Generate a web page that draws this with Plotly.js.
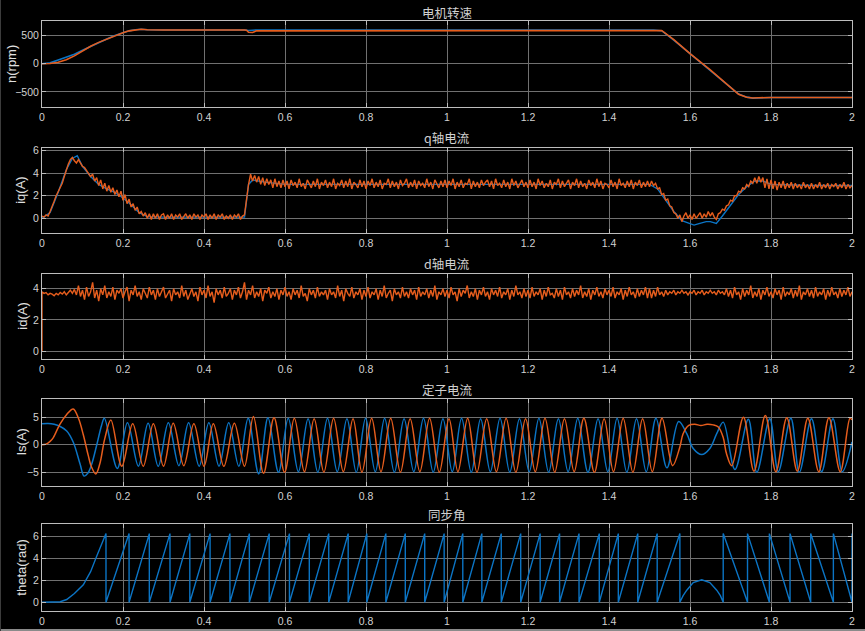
<!DOCTYPE html>
<html><head><meta charset="utf-8">
<script src="https://cdn.plot.ly/plotly-3.0.1.min.js"></script>
<style>html,body{margin:0;padding:0;background:#000;}#chart{width:865px;height:631px;}</style>
</head><body><div id="chart"></div>
<script>
// ---------- labels ----------
const panelTitles = ['电机转速','q轴电流','d轴电流','定子电流','同步角'];
const yTitles = ['n(rpm)','iq(A)','id(A)','Is(A)','theta(rad)'];

// ---------- speed (rpm) ----------
const speedT = [0,0.02,0.04,0.06,0.08,0.1,0.12,0.14,0.16,0.18,0.2,0.215,0.23,0.245,0.26,0.3,0.5,0.505,0.51,0.52,0.53,1.51,1.53,1.56,1.6,1.65,1.69,1.72,1.74,1.755,1.77,1.8,2.0];
const speedBlue = [0,15,65,115,170,240,310,380,440,500,553,585,603,612,605,600,600,592,590,596,600,600,588,420,178,-110,-350,-540,-595,-612,-608,-600,-600];
const speedOrange = [0,5,25,70,140,230,310,380,440,500,553,585,603,612,605,600,600,595,560,555,585,600,592,430,180,-110,-355,-545,-598,-610,-606,-600,-600];

// ---------- iq (A) ----------
const iqBlueT = [0,0.02,0.04,0.06,0.075,0.087,0.1,0.12,0.14,0.16,0.18,0.2,0.22,0.24,0.26,0.3,0.5,0.505,0.51,0.52,0.55,0.6,1.5,1.52,1.54,1.56,1.58,1.6,1.61,1.62,1.64,1.65,1.665,1.68,1.7,1.72,1.74,1.76,1.78,1.8,1.9,2.0];
const iqBlue = [0,0.5,2.3,4.3,5.3,5.55,4.6,3.7,3.0,2.6,2.3,1.8,1.2,0.5,0.15,0.1,0.1,1.5,3.0,3.4,3.2,3.0,3.0,2.6,1.6,0.6,-0.2,-0.5,-0.6,-0.5,-0.3,-0.3,-0.45,0.2,1.1,2.1,2.8,3.3,3.3,3.0,2.9,2.9];
const sampleStep = 0.005;
const iqOrange = [
0.2,0.1,0.3,0.2,0.6,1.0,1.5,2.0,2.4,2.8,3.1,3.7,4.3,4.8,5.2,5.4,5.1,4.9,5.2,4.9,
4.6,4.5,4.2,4.0,3.7,3.9,3.3,3.6,2.9,3.4,2.6,3.1,2.4,2.9,2.3,2.7,2.1,2.5,1.9,2.4,
1.6,2.1,1.3,1.7,1.0,1.3,0.7,1.0,0.4,0.6,0.2,0.5,0.0,0.4,-0.1,0.4,0.0,0.4,-0.1,0.3,
0.4,-0.1,0.3,0.0,0.4,-0.1,0.3,0.1,0.4,-0.1,0.2,0.4,0.0,0.3,-0.1,0.4,0.1,0.3,-0.1,0.3,
0.1,0.4,-0.1,0.3,0.0,0.4,-0.1,0.3,0.1,0.4,-0.1,0.2,0.0,0.3,-0.1,0.3,0.1,0.4,-0.1,0.2,
0.3,1.8,3.0,3.9,3.3,3.8,3.2,3.7,3.0,3.6,2.9,3.5,3.0,3.4,2.7,3.5,2.8,3.3,2.7,3.4,
2.8,3.3,2.6,3.4,2.9,3.2,2.7,3.5,2.8,3.1,2.6,3.4,3.0,2.7,3.3,2.8,3.5,2.6,3.2,2.9,
3.4,2.7,3.2,2.8,3.5,2.6,3.1,2.9,3.4,2.7,3.3,2.8,3.5,2.6,3.2,3.0,2.7,3.4,2.8,3.3,
2.6,3.3,2.9,3.5,2.7,3.2,2.8,3.4,2.6,3.1,3.0,3.5,2.7,3.3,2.8,3.2,2.6,3.4,2.9,3.1,
3.5,2.7,3.2,2.8,3.4,2.6,3.3,2.9,3.1,2.7,3.5,2.8,3.2,2.6,3.4,3.0,2.7,3.3,2.8,3.4,
2.7,3.3,2.9,3.5,2.6,3.2,2.8,3.4,2.7,3.1,3.0,3.5,2.6,3.3,2.8,3.2,2.7,3.4,2.9,3.2,
3.4,2.8,3.3,2.6,3.5,2.9,3.1,2.7,3.4,2.8,3.2,2.6,3.5,2.9,3.3,2.7,3.1,3.4,2.8,3.2,
2.7,3.4,2.8,3.2,2.6,3.5,2.9,3.3,2.7,3.1,2.8,3.4,2.6,3.2,3.0,3.5,2.7,3.3,2.8,3.1,
3.4,2.6,3.2,2.9,3.5,2.7,3.3,2.8,3.1,2.6,3.4,2.9,3.2,2.7,3.5,2.8,3.3,2.6,3.1,3.0,
2.7,3.4,2.8,3.2,2.6,3.5,2.9,3.1,2.7,3.3,2.8,3.4,2.6,3.2,2.9,3.4,2.7,3.2,2.8,3.3,
2.8,3.3,2.9,3.1,2.6,2.7,2.1,2.2,1.6,1.7,1.1,1.0,0.5,0.4,0.0,0.3,-0.3,0.2,0.5,0.0,
0.3,-0.1,0.4,0.0,0.3,0.5,0.0,0.4,0.1,0.6,0.2,0.5,0.1,-0.1,0.4,0.5,0.8,0.7,1.1,1.2,
1.6,1.5,2.0,2.0,2.4,2.3,2.7,2.6,3.0,2.8,3.3,3.1,3.6,3.1,3.7,3.2,3.6,2.7,3.5,2.6,
3.4,2.6,3.3,2.5,3.2,2.7,3.3,2.6,3.1,2.7,3.2,2.6,3.1,2.7,3.0,2.6,3.2,2.7,3.0,2.6,
3.1,2.6,3.0,2.7,3.2,2.6,3.0,2.7,3.1,2.6,3.0,2.8,3.1,2.6,3.0,2.7,3.2,2.6,3.0,2.7,
2.9];

// ---------- id (A) ----------
const idInitial = 0;
const idOrange = [
3.8,3.7,3.75,3.6,3.7,3.65,3.55,3.7,3.6,3.75,3.65,3.8,3.6,3.75,3.9,3.7,3.95,3.6,4.2,3.5,
3.9,3.3,4.1,3.5,3.8,4.4,3.4,3.9,3.2,4.0,3.6,4.2,3.4,3.8,3.5,4.1,3.3,3.9,3.7,4.0,
3.4,3.8,4.1,3.2,3.9,3.6,4.2,3.5,3.8,3.3,4.0,3.7,3.4,4.1,3.6,3.9,3.3,4.0,3.5,3.8,
4.1,3.4,3.7,3.9,3.2,4.0,3.6,3.8,3.4,4.2,3.5,3.9,3.3,3.7,4.0,3.5,3.8,3.2,4.1,3.6,
3.9,3.4,4.2,3.5,3.8,3.1,4.0,3.6,3.9,3.4,4.1,3.5,3.7,4.0,3.3,3.9,3.6,4.1,3.4,3.8,
4.4,3.3,3.9,3.6,4.2,3.4,3.8,3.5,4.0,3.2,3.9,3.7,4.1,3.4,3.8,3.5,4.0,3.3,3.9,3.6,
4.1,3.5,3.8,3.3,4.0,3.6,3.9,3.4,4.2,3.5,3.7,3.2,4.0,3.6,3.9,3.4,4.1,3.5,3.8,3.6,
3.9,3.3,4.0,3.6,3.8,3.4,4.2,3.5,3.9,3.2,4.0,3.7,3.5,4.1,3.4,3.8,3.6,4.0,3.3,3.9,
3.5,4.1,3.4,3.8,3.6,4.0,3.3,3.9,3.5,4.2,3.4,3.7,3.9,3.2,4.0,3.6,3.8,3.4,4.1,3.5,
3.8,3.4,4.0,3.6,3.9,3.3,4.1,3.5,3.8,3.6,4.0,3.4,3.9,3.5,4.2,3.3,3.8,3.6,4.0,3.5,
3.9,3.4,4.1,3.6,3.8,3.2,4.0,3.5,3.9,3.7,4.2,3.4,3.8,3.5,4.0,3.3,3.9,3.6,4.1,3.5,
3.8,3.3,4.0,3.6,3.9,3.5,4.1,3.4,3.8,3.6,4.0,3.3,3.9,3.5,4.2,3.6,3.8,3.4,4.0,3.5,
3.9,3.4,4.1,3.5,3.8,3.6,4.0,3.3,3.9,3.5,4.1,3.6,3.7,3.4,4.0,3.5,3.9,3.3,4.1,3.6,
3.8,3.4,4.0,3.5,3.9,3.6,4.2,3.4,3.8,3.5,4.0,3.3,3.9,3.6,4.1,3.5,3.8,3.4,4.0,3.6,
3.9,3.5,4.1,3.4,3.8,3.6,4.0,3.3,3.9,3.5,4.1,3.6,3.8,3.4,4.0,3.5,3.9,3.6,4.1,3.4,
4.0,3.4,3.9,3.5,4.1,3.6,3.8,3.5,3.9,3.6,3.8,3.7,3.9,3.6,3.8,3.7,3.9,3.7,3.8,3.6,
3.8,3.7,3.9,3.6,3.8,3.7,3.9,3.6,3.8,3.7,3.9,3.7,3.8,3.6,3.9,3.7,3.8,3.6,4.0,3.5,
3.9,3.4,4.1,3.6,3.8,3.3,4.0,3.5,3.9,3.6,4.2,3.4,3.8,3.5,4.0,3.3,3.9,3.6,4.1,3.5,
3.8,3.4,4.0,3.6,3.9,3.3,4.1,3.5,3.8,3.6,4.0,3.4,3.9,3.5,4.2,3.3,3.8,3.6,4.0,3.5,
3.9,3.4,4.1,3.5,3.8,3.6,4.0,3.3,3.9,3.5,4.1,3.6,3.8,3.4,4.0,3.5,3.9,3.6,4.1,3.5,
3.8];

// ---------- stator current Is (A): extrema and shape points ----------
const isBlueT = [0,0.015,0.03,0.045,0.061,0.077,0.094,0.104,0.113,0.122,0.135,0.147,0.154,
0.186,0.211,0.238,0.262,0.287,0.312,0.338,0.362,0.388,0.412,0.437,0.461,0.486,0.509,0.535,0.558,0.584,0.608,
0.633,0.657,0.681,0.705,0.729,0.753,0.776,0.799,0.823,0.846,0.870,0.894,0.918,0.942,0.966,0.990,1.013,1.036,1.060,1.083,
1.107,1.131,1.155,1.179,1.203,1.227,1.251,1.275,1.299,1.323,1.348,1.373,1.397,1.420,1.444,1.468,1.492,1.516,1.543,1.572,
1.592,1.608,1.629,1.649,1.666,1.682,
1.711,1.744,1.765,1.797,1.818,1.849,1.870,1.900,1.925,1.953,1.976,2.0];
const isBlue = [3.8,3.85,3.7,3.3,2.5,0.5,-3.5,-5.7,-5.2,-3.7,-0.1,3.5,4.8,
-4.3,4.0,-3.9,3.9,-3.9,4.0,-3.8,4.0,-3.9,4.0,-3.9,4.0,-3.9,4.8,-5.3,4.9,-5.0,4.8,
-4.9,4.7,-5.0,4.8,-4.9,4.7,-5.0,4.8,-4.9,4.8,-5.0,4.7,-4.9,4.8,-5.0,4.7,-4.9,4.8,-5.0,4.7,
-4.9,4.8,-5.0,4.7,-4.9,4.8,-5.0,4.7,-4.9,4.8,-5.0,4.7,-4.9,4.8,-5.0,4.7,-4.9,4.8,-4.2,4.2,
2.0,-0.7,-1.8,-0.7,2.0,4.1,
-4.5,4.6,-5.0,4.7,-4.9,4.8,-5.0,4.7,-4.9,4.7,-4.9,0.5];
const isOrangeT = [0,0.01,0.02,0.028,0.044,0.061,0.077,0.09,0.102,0.114,0.122,0.133,0.143,0.155,0.170,
0.197,0.224,0.250,0.275,0.300,0.324,0.350,0.375,0.400,0.423,0.449,0.475,0.500,
0.522,0.547,0.573,0.599,0.623,
0.648,0.672,0.696,0.720,0.744,0.768,0.790,0.814,0.837,0.861,0.885,0.909,0.933,0.957,0.981,1.005,1.027,1.051,1.074,1.098,
1.122,1.146,1.170,1.194,1.218,1.242,1.266,1.290,1.314,1.338,1.364,1.388,1.411,1.435,1.459,1.483,1.507,1.531,
1.557,1.575,1.583,1.597,1.612,1.627,1.642,1.657,1.670,1.682,1.690,1.703,
1.732,1.758,1.786,1.812,1.839,1.865,1.891,1.918,1.943,1.971,1.995,2.0];
const isOrange = [0,0.1,0.6,1.3,3.7,5.5,6.5,4.8,1.8,-1.9,-4.0,-5.3,-3.4,1.1,4.5,
-3.9,3.8,-3.9,3.8,-3.9,3.9,-3.8,3.8,-3.9,3.8,-3.9,3.9,-3.9,
5.1,-5.2,4.9,-5.0,4.8,
-4.9,4.7,-5.0,4.8,-4.9,4.7,-5.0,4.8,-4.9,4.8,-5.0,4.7,-4.9,4.8,-5.0,4.7,-4.9,4.8,-5.0,4.7,
-4.9,4.8,-5.0,4.7,-4.9,4.8,-5.0,4.7,-4.9,4.8,-5.0,4.7,-4.9,4.8,-5.0,4.7,-4.9,4.8,
-3.8,-0.4,2.0,3.5,3.7,3.5,3.7,3.6,3.2,1.3,-1.6,-3.8,
5.0,-4.8,5.3,-4.9,4.9,-4.8,4.8,-4.9,4.9,-4.9,4.8,4.5];

// ---------- synchronous angle theta (rad) ----------
const thetaMax = 6.28;
const thetaStartT = [0,0.03,0.045,0.061,0.08,0.102,0.12,0.135,0.158];
const thetaStart = [0,0,0.05,0.25,0.8,1.6,2.8,4.2,6.28];
const wrapUpT = [0.158,0.215,0.265,0.316,0.365,0.415,0.464,0.512,0.561,0.611,0.660,0.708,0.756,0.802,0.849,0.897,0.945,0.993,1.039,1.086,1.134,1.182,1.230,1.278,1.326,1.376,1.423,1.471,1.519,1.575];
const humpT = [1.583,1.592,1.608,1.629,1.649,1.666,1.675,1.682];
const hump = [0.6,1.1,1.8,2.05,1.8,1.1,0.6,0];
const wrapDownT = [1.682,1.742,1.796,1.847,1.898,1.954,2.0];

// ---------- colours ----------
const BLUE = '#0b74c4', ORANGE = '#e65d1d';

// build theta vertex list from the wrap instants
const thT = thetaStartT.slice(), thV = thetaStart.slice();
wrapUpT.forEach(w => { thT.push(w, w); thV.push(thetaMax, 0); });
humpT.forEach((t, i) => { thT.push(t); thV.push(hump[i]); });
wrapDownT.forEach(w => { thT.push(w, w); thV.push(0, thetaMax); });

const iqT = iqOrange.map((_, i) => +(i * sampleStep).toFixed(3));
const idT = [0].concat(idOrange.map((_, i) => +(i * sampleStep).toFixed(3)));
const idV = [idInitial].concat(idOrange);

const traces = [
  {x: speedT, y: speedBlue, xaxis:'x', yaxis:'y', mode:'lines', line:{color:BLUE, width:1.6}},
  {x: speedT, y: speedOrange, xaxis:'x', yaxis:'y', mode:'lines', line:{color:ORANGE, width:1.6}},
  {x: iqBlueT, y: iqBlue, xaxis:'x2', yaxis:'y2', mode:'lines', line:{color:BLUE, width:1.4}},
  {x: iqT, y: iqOrange, xaxis:'x2', yaxis:'y2', mode:'lines', line:{color:ORANGE, width:1.4}},
  {x: idT, y: idV, xaxis:'x3', yaxis:'y3', mode:'lines', line:{color:ORANGE, width:1.4}},
  {x: isBlueT, y: isBlue, xaxis:'x4', yaxis:'y4', mode:'lines', line:{color:BLUE, width:1.5, shape:'spline', smoothing:1}},
  {x: isOrangeT, y: isOrange, xaxis:'x4', yaxis:'y4', mode:'lines', line:{color:ORANGE, width:1.5, shape:'spline', smoothing:1}},
  {x: thT, y: thV, xaxis:'x5', yaxis:'y5', mode:'lines', line:{color:BLUE, width:1.4}}
];

const W = 865, H = 631;
const xDom = [42 / W, 852 / W];
const panelPx = [[21,107],[148.3,233.3],[274,359.3],[399,486],[524.3,611]];
const yRanges = [[-770,760],[-1.33,6.2],[-0.53,4.94],[-7.5,8.3],[-0.8,7.13]];
const yDticks = [500,2,2,5,2];
const titleYpx = [12,137.5,263.5,389.5,514.5];
const yTitleXpx = [11,21,23,21,22];

const tickFont = {family:'Liberation Sans, Arial, sans-serif', size:10.5, color:'#d2d2d2'};
const common = {showgrid:true, gridcolor:'#707070', gridwidth:1, showline:true, linecolor:'#bdbdbd', linewidth:1,
  mirror:'allticks', ticks:'inside', ticklen:4, tickcolor:'#bdbdbd', tickfont:tickFont, zeroline:false, fixedrange:true};

const layout = {width:W, height:H, margin:{l:0,r:0,t:0,b:0}, paper_bgcolor:'#000', plot_bgcolor:'#000',
  showlegend:false, annotations:[], shapes:[
    {type:'line', xref:'paper', yref:'paper', x0:0, x1:1, y0:1/H, y1:1/H, line:{color:'#8a8a8a', width:2}},
    {type:'line', xref:'paper', yref:'paper', x0:0.5/W, x1:0.5/W, y0:0, y1:1, line:{color:'#3c3c3c', width:1}}
  ]};

for (let i = 0; i < 5; i++) {
  const s = i === 0 ? '' : String(i + 1);
  const yd = [1 - panelPx[i][1] / H, 1 - panelPx[i][0] / H];
  layout['xaxis' + s] = Object.assign({}, common, {domain:xDom, anchor:'y' + s, range:[0,2], tick0:0, dtick:0.2});
  layout['yaxis' + s] = Object.assign({}, common, {domain:yd, anchor:'x' + s, range:yRanges[i], tick0:0, dtick:yDticks[i]});
  layout.annotations.push({text:panelTitles[i], xref:'paper', yref:'paper', x:447 / W, y:1 - titleYpx[i] / H,
    xanchor:'center', yanchor:'middle', showarrow:false,
    font:{family:'Noto Sans CJK SC, sans-serif', size:12.5, color:'#d0d0d0'}});
  layout.annotations.push({text:yTitles[i], xref:'paper', yref:'paper', x:yTitleXpx[i] / W, y:(yd[0] + yd[1]) / 2,
    xanchor:'center', yanchor:'middle', textangle:-90, showarrow:false,
    font:{family:'Liberation Sans, Arial, sans-serif', size:13, color:'#e0e0e0'}});
}

Plotly.newPlot('chart', traces, layout, {displayModeBar:false, staticPlot:true});
</script>
</body></html>
